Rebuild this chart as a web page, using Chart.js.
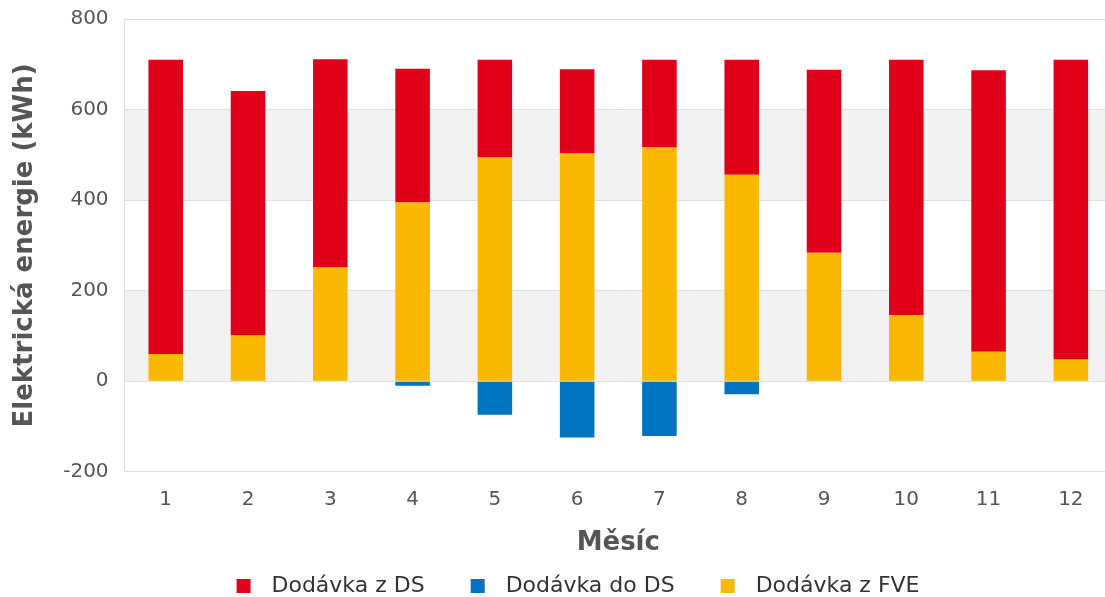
<!DOCTYPE html>
<html>
<head>
<meta charset="utf-8">
<script src="https://cdn.jsdelivr.net/npm/chart.js@4"></script>
<style>
  html, body { margin: 0; padding: 0; background: #fff; overflow: hidden; }
  #wrap { position: relative; top: -9px; width: 1112px; height: 606px; }
</style>
</head>
<body>
<div id="wrap"><canvas id="energy-chart"></canvas></div>
<script>
// months on the x axis
const months = ['1', '2', '3', '4', '5', '6', '7', '8', '9', '10', '11', '12'];
// values (kWh)
const fromDS = [650, 540, 460, 295, 216, 186, 194, 254, 404, 564, 622, 662];
const toDS = [0, 0, 0, -10, -74, -124, -121, -29, 0, 0, 0, 0];
const fromFVE = [60, 101, 251, 395, 494, 503, 516, 456, 284, 146, 65, 48];
const yTicks = [-200, 0, 200, 400, 600, 800];
const bands = [[0, 200], [400, 600]];

const legendOrder = ['Dodávka z DS', 'Dodávka do DS', 'Dodávka z FVE'];

// light grey bands behind the bars
const bandPlugin = {
    id: 'bands',
    beforeDraw(chart) {
        const ctx = chart.ctx;
        const area = chart.chartArea;
        const y = chart.scales.y;
        ctx.save();
        ctx.fillStyle = '#f2f2f2';
        bands.forEach(function(b) {
            const top = y.getPixelForValue(b[1]);
            const bottom = y.getPixelForValue(b[0]);
            ctx.fillRect(area.left, top, area.right - area.left, bottom - top);
        });
        ctx.restore();
    }
};

// legend swatch: small square with some room around it
function makeSwatch(color) {
    const c = document.createElement('canvas');
    c.width = 58;
    c.height = 14;
    const g = c.getContext('2d');
    g.fillStyle = color;
    g.fillRect(34, 0, 14, 14);
    return c;
}

Chart.defaults.font.family = '"DejaVu Sans", Verdana, sans-serif';
Chart.defaults.color = '#555';

document.addEventListener('DOMContentLoaded', function() {
    const ctx = document.getElementById('energy-chart').getContext('2d');
    new Chart(ctx, {
        type: 'bar',
        data: {
            labels: months,
            datasets: [
                { label: 'Dodávka z FVE', data: fromFVE, backgroundColor: '#fab900' },
                { label: 'Dodávka do DS', data: toDS, backgroundColor: '#0073c1' },
                { label: 'Dodávka z DS', data: fromDS, backgroundColor: '#e1001a' }
            ]
        },
        options: {
            responsive: true,
            maintainAspectRatio: false,
            animation: false,
            barPercentage: 0.42,
            categoryPercentage: 1,
            layout: { padding: { top: 0, right: 0, left: 10, bottom: -10 } },
            plugins: {
                tooltip: { enabled: false },
                legend: {
                    position: 'bottom',
                    labels: {
                        usePointStyle: true,
                        pointStyleWidth: 58,
                        boxHeight: 14,
                        padding: 12,
                        font: { size: 22 },
                        color: '#333',
                        generateLabels: function(chart) {
                            const items = Chart.defaults.plugins.legend.labels.generateLabels(chart);
                            items.forEach(function(it) { it.pointStyle = makeSwatch(it.fillStyle); });
                            return items;
                        },
                        sort: function(a, b) {
                            return legendOrder.indexOf(a.text) - legendOrder.indexOf(b.text);
                        }
                    }
                }
            },
            scales: {
                x: {
                    stacked: true,
                    grid: { display: false, drawTicks: false },
                    border: { color: '#ddd' },
                    ticks: { font: { size: 20 }, padding: 16 },
                    title: { display: true, text: 'Měsíc', font: { size: 26, weight: 'bold' }, padding: { top: 0, bottom: 4 } }
                },
                y: {
                    stacked: true,
                    min: -200,
                    max: 800,
                    afterBuildTicks: function(axis) {
                        axis.ticks = yTicks.map(function(v) { return { value: v }; });
                    },
                    grid: { color: '#e0e0e0', drawTicks: false },
                    border: { color: '#ddd' },
                    ticks: { font: { size: 20 }, padding: 16 },
                    title: { display: true, text: 'Elektrická energie (kWh)', font: { size: 26, weight: 'bold' }, padding: { top: 0, bottom: 6 } }
                }
            }
        },
        plugins: [bandPlugin]
    });
});
</script>
</body>
</html>
